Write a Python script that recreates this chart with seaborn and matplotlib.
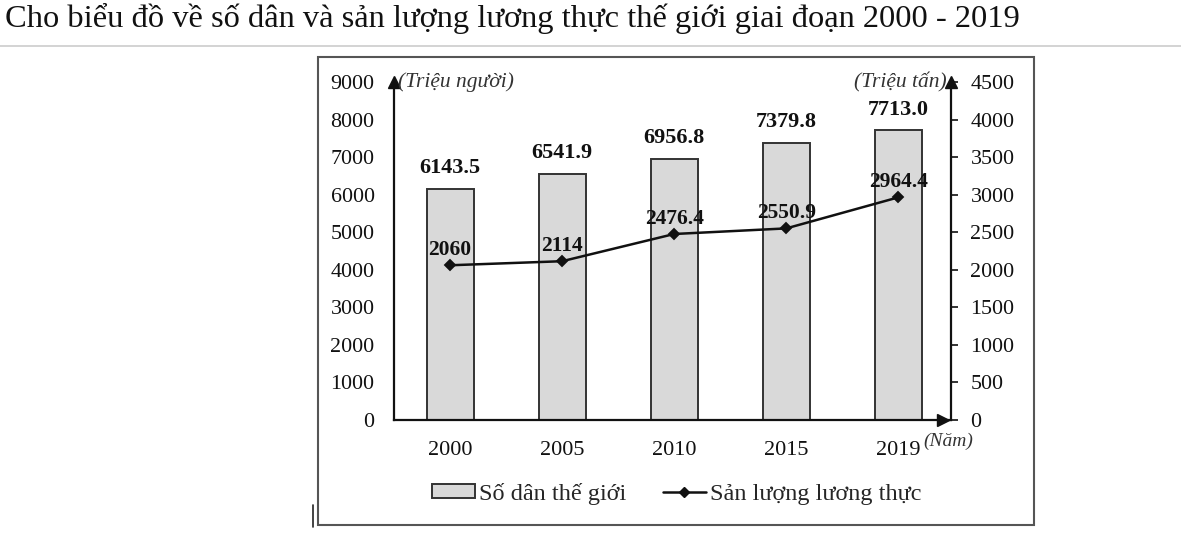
import matplotlib
matplotlib.use("Agg")
import matplotlib.pyplot as plt
import seaborn as sns
import numpy as np
import pandas as pd
from matplotlib.patches import Patch, Rectangle
from matplotlib.lines import Line2D

years = ["2000", "2005", "2010", "2015", "2019"]
population = [6143.5, 6541.9, 6956.8, 7379.8, 7713.0]
food = [2060, 2114, 2476.4, 2550.9, 2964.4]
left_ticks = [0, 1000, 2000, 3000, 4000, 5000, 6000, 7000, 8000, 9000]
right_ticks = [0, 500, 1000, 1500, 2000, 2500, 3000, 3500, 4000, 4500]

title = "Cho biểu đồ về số dân và sản lượng lương thực thế giới giai đoạn 2000 - 2019"
left_unit = "(Triệu người)"
right_unit = "(Triệu tấn)"
x_unit = "(Năm)"
legend_pop = "Số dân thế giới"
legend_food = "Sản lượng lương thực"

sns.set_theme(style="white")
plt.rcParams["font.family"] = ["Liberation Serif", "DejaVu Serif"]

W, H = 1181, 535
fig = plt.figure(figsize=(W / 100, H / 100), dpi=100)

# title and separator
fig.text(5 / W, 1 - 18 / H, title, fontsize=23.4, va="center", ha="left", color="#111111")
fig.add_artist(Line2D([0, 1], [1 - 46 / H, 1 - 46 / H], color="#cccccc", lw=1.2, transform=fig.transFigure))
# chart frame
fig.add_artist(Rectangle((318 / W, 1 - 525 / H), (1034 - 318) / W, (525 - 57) / H,
                         transform=fig.transFigure, fill=False, edgecolor="#555555", lw=1.5))
# small cursor mark
fig.add_artist(Line2D([313 / W, 313 / W], [1 - 527 / H, 1 - 505 / H], color="#222222", lw=1.2,
                      transform=fig.transFigure))

ax = fig.add_axes([394 / W, 1 - 420 / H, (951 - 394) / W, (420 - 82) / H])
df = pd.DataFrame({"year": years, "pop": population, "food": food})

sns.barplot(data=df, x="year", y="pop", ax=ax, color="#d9d9d9", edgecolor="#333333",
            linewidth=1.4, width=0.42, saturation=1)
ax.set_xlim(-0.5, 4.47)
ax.set_ylim(0, 9000)
ax.set_yticks(left_ticks)
ax.set_yticklabels([str(t) for t in left_ticks])
ax.tick_params(axis="y", length=0, pad=14, labelsize=15.8, colors="#111111")
ax.tick_params(axis="x", length=0, pad=15, labelsize=16, colors="#111111")
ax.set_xlabel("")
ax.set_ylabel("")
for s in ["top", "right"]:
    ax.spines[s].set_visible(False)
for s in ["left", "bottom"]:
    ax.spines[s].set_color("#111111")
    ax.spines[s].set_linewidth(1.6)
ax.patch.set_alpha(0)

for i, v in enumerate(population):
    ax.annotate(f"{v:.1f}", (i, v), xytext=(0, 15), textcoords="offset points",
                ha="center", va="center", fontsize=16, fontweight="bold", color="#111111")

ax2 = ax.twinx()
sns.pointplot(data=df, x="year", y="food", ax=ax2, color="#111111", markers="D",
              markersize=5, linewidth=1.8, errorbar=None)
ax2.set_xlim(-0.5, 4.47)
ax2.set_ylim(0, 4500)
ax2.set_yticks(right_ticks)
ax2.set_yticklabels([str(t) for t in right_ticks])
ax2.tick_params(axis="y", length=5, width=1.2, direction="out", pad=9, labelsize=15.8,
                colors="#111111")
ax2.set_ylabel("")
ax2.set_xlabel("")
for s in ["top", "left", "bottom"]:
    ax2.spines[s].set_visible(False)
ax2.spines["right"].set_color("#111111")
ax2.spines["right"].set_linewidth(1.6)

for i, v in enumerate(food):
    ax2.annotate(f"{v:g}", (i, v), xytext=(0, 11), textcoords="offset points",
                 ha="center", va="center", fontsize=15.5, fontweight="bold", color="#111111")

# axis arrows
ax.plot(0, 1, marker="^", color="#111111", markersize=9, transform=ax.transAxes, clip_on=False)
ax.plot(1, 1, marker="^", color="#111111", markersize=9, transform=ax.transAxes, clip_on=False)
ax.plot(0.985, 0, marker=">", color="#111111", markersize=9, transform=ax.transAxes, clip_on=False)

# unit labels
fig.text(398 / W, 1 - 82 / H, left_unit, fontsize=15.5, style="italic", ha="left", va="center", color="#333333")
fig.text(947 / W, 1 - 82 / H, right_unit, fontsize=15.5, style="italic", ha="right", va="center", color="#333333")
fig.text(948 / W, 1 - 441 / H, x_unit, fontsize=14, style="italic", ha="center", va="center", color="#333333")

handles = [Patch(facecolor="#d9d9d9", edgecolor="#333333", lw=1.4),
           Line2D([], [], color="#111111", lw=1.8, marker="D", markersize=5)]
fig.legend(handles, [legend_pop, legend_food], loc="center", bbox_to_anchor=(677 / W, 1 - 494 / H),
           ncol=2, frameon=False, fontsize=17.5, handlelength=1.75, handletextpad=0.18,
           columnspacing=1.5, handleheight=0.5)

fig.savefig("out.png", dpi=100)
